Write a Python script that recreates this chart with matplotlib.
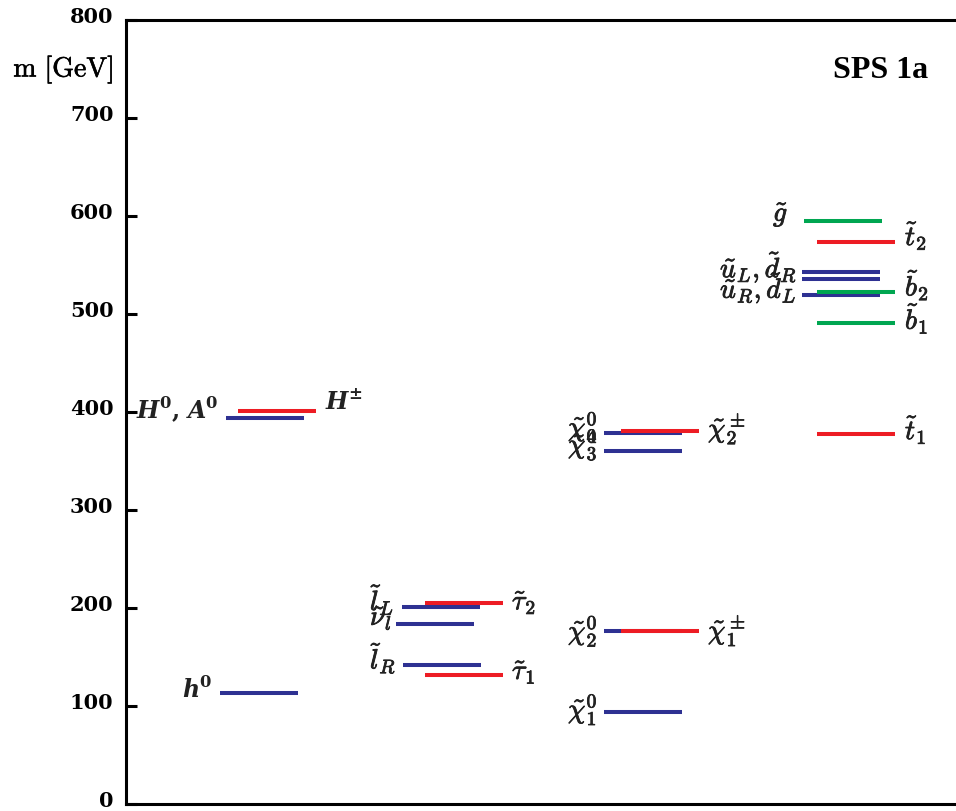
import matplotlib
matplotlib.use("Agg")
import matplotlib.pyplot as plt
from matplotlib import transforms
import matplotlib.patheffects as pe

plt.rcParams["mathtext.fontset"] = "cm"
# custom math set, used only for the bold italic Higgs labels
plt.rcParams["mathtext.bfit"] = "DejaVu Serif:italic:bold"
plt.rcParams["mathtext.bf"] = "DejaVu Serif:bold"
plt.rcParams["mathtext.rm"] = "DejaVu Serif:bold"

# SPS 1a mass spectrum [GeV]
names = ["h0", "H0", "Hpm",
         "lL", "tau2", "nul", "lR", "tau1",
         "chi04", "chi2pm", "chi03", "chi02", "chi1pm", "chi01",
         "gluino", "t2", "uL", "dR", "b2", "uR", "b1", "t1"]
masses = [113, 394, 401,
          201, 205, 184, 142, 132,
          379, 381, 360, 177, 177, 94,
          595, 573, 543, 536, 522, 519, 491, 378]
kinds = ["neutral", "neutral", "charged",
         "neutral", "charged", "neutral", "neutral", "charged",
         "neutral", "charged", "neutral", "neutral", "charged", "neutral",
         "colour", "charged", "neutral", "neutral", "colour", "neutral", "colour", "charged"]

labels = {
    "h0": r"$\mathbfit{h}^{\mathbf{0}}$",
    "H0": r"$\mathbfit{H}^{\mathbf{0}}\mathbf{,}\ \mathbfit{A}^{\mathbf{0}}$",
    "Hpm": r"$\mathbfit{H}^{\mathbf{\pm}}$",
    "lL": r"$\tilde{l}_L$",
    "nul": r"$\tilde{\nu}_l$",
    "lR": r"$\tilde{l}_R$",
    "tau2": r"$\tilde{\tau}_2$",
    "tau1": r"$\tilde{\tau}_1$",
    "chi04": r"$\tilde{\chi}_4^0$",
    "chi03": r"$\tilde{\chi}_3^0$",
    "chi2pm": r"$\tilde{\chi}_2^\pm$",
    "chi02": r"$\tilde{\chi}_2^0$",
    "chi1pm": r"$\tilde{\chi}_1^\pm$",
    "chi01": r"$\tilde{\chi}_1^0$",
    "gluino": r"$\tilde{g}$",
    "t2": r"$\tilde{t}_2$",
    "uL": r"$\tilde{u}_L, \tilde{d}_R$",
    "uR": r"$\tilde{u}_R, \tilde{d}_L$",
    "b2": r"$\tilde{b}_2$",
    "b1": r"$\tilde{b}_1$",
    "t1": r"$\tilde{t}_1$",
}

# layout (horizontal positions in axis pixels from the y axis)
line_start = {
    "h0": 94, "H0": 100, "Hpm": 112,
    "lL": 276, "nul": 270, "lR": 277, "tau2": 299, "tau1": 299,
    "chi04": 478, "chi03": 478, "chi02": 478, "chi01": 478,
    "chi2pm": 495, "chi1pm": 495,
    "uL": 676, "dR": 676, "uR": 676, "gluino": 678,
    "t2": 691, "b2": 691, "b1": 691, "t1": 691,
}
line_len = 78

# label placement: (x, y offset, ha)
label_pos = {
    "h0": (86, 5, "right"), "H0": (92, 9, "right"), "Hpm": (199, 9, "left"),
    "lL": (244, 7, "left"), "nul": (244, 6, "left"), "lR": (244, 6, "left"),
    "tau2": (386, 1, "left"), "tau1": (386, 3, "left"),
    "chi04": (442, 6, "left"), "chi03": (442, 7, "left"),
    "chi2pm": (582, 2, "left"), "chi02": (442, 0, "left"),
    "chi1pm": (582, 0, "left"), "chi01": (442, 3, "left"),
    "gluino": (647, 7, "left"), "t2": (779, 7, "left"),
    "uL": (594, 4, "left"), "uR": (594, 7, "left"),
    "b2": (779, 7, "left"), "b1": (779, 4, "left"), "t1": (779, 4, "left"),
}

colors = {"neutral": "#2E3192", "charged": "#ED1C24", "colour": "#00A651"}
zorders = {"neutral": 2, "charged": 3, "colour": 4}

fig = plt.figure(figsize=(9.56, 8.12), dpi=100)
ax = fig.add_axes([126 / 956, 7 / 812, 830 / 956, 784 / 812])

for name, m, kind in zip(names, masses, kinds):
    x0 = line_start[name]
    ax.plot([x0, x0 + line_len], [m, m], color=colors[kind],
            linewidth=2.9, solid_capstyle="butt", zorder=zorders[kind])

heavy = [pe.withStroke(linewidth=0.6, foreground="#222222")]
mass_of = dict(zip(names, masses))
for name, text in labels.items():
    x, dy, ha = label_pos[name]
    bold = name in ("h0", "H0", "Hpm")
    t = ax.text(x, mass_of[name] + dy, text, ha=ha, va="center",
                fontsize=17 if bold else 20, color="#222222",
                math_fontfamily="custom" if bold else "cm")
    if not bold:
        t.set_path_effects(heavy)

ax.text(0.966, 750, "SPS 1a", transform=ax.get_yaxis_transform(),
        ha="right", va="center", fontsize=23, fontweight="bold",
        family="Liberation Serif")
ax.text(-0.015, 750, r"$\mathrm{m\ [GeV]}$", transform=ax.get_yaxis_transform(),
        ha="right", va="center", fontsize=20, math_fontfamily="cm",
        path_effects=[pe.withStroke(linewidth=0.4, foreground="black")])

ax.set_xlim(0, 830)
ax.set_ylim(0, 800)
ax.set_xticks([])
ticks = list(range(0, 801, 100))
ax.set_yticks(ticks)
ax.set_yticklabels([str(t) for t in ticks], fontsize=15, fontweight="bold",
                   family="DejaVu Serif")
ax.tick_params(axis="y", direction="in", length=8, width=2.2, pad=9)
offset = transforms.ScaledTranslation(0, 6 / 100, fig.dpi_scale_trans)
for lab in ax.get_yticklabels():
    lab.set_transform(lab.get_transform() + offset)

ax.spines["right"].set_visible(False)
for s in ("left", "top", "bottom"):
    ax.spines[s].set_linewidth(2.2)

fig.savefig("out.png", dpi=100)
